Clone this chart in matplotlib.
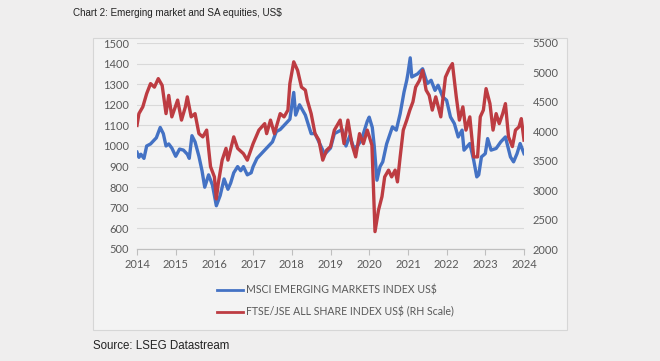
import numpy as np
import matplotlib.pyplot as plt
from matplotlib.patches import Rectangle
from matplotlib.lines import Line2D

# MSCI Emerging Markets index (left axis)
msci_t = [2014.0, 2014.05, 2014.1, 2014.18, 2014.25, 2014.35, 2014.5, 2014.6, 2014.68,
          2014.75, 2014.82, 2014.9, 2015.0, 2015.1, 2015.2, 2015.3, 2015.35, 2015.42,
          2015.5, 2015.6, 2015.68, 2015.75, 2015.85, 2015.95, 2016.0, 2016.05, 2016.15,
          2016.25, 2016.35, 2016.42, 2016.5, 2016.6, 2016.68, 2016.75, 2016.85, 2016.95,
          2017.0, 2017.1, 2017.2, 2017.35, 2017.5, 2017.6, 2017.7, 2017.8, 2017.95,
          2018.05, 2018.1, 2018.2, 2018.35, 2018.5, 2018.6, 2018.75, 2018.85, 2019.0,
          2019.1, 2019.3, 2019.4, 2019.5, 2019.6, 2019.7, 2019.8, 2019.95, 2020.0,
          2020.08, 2020.13, 2020.2, 2020.28, 2020.35, 2020.45, 2020.6, 2020.7, 2020.8,
          2020.9, 2020.97, 2021.0, 2021.06, 2021.1, 2021.25, 2021.38, 2021.5, 2021.6,
          2021.7, 2021.78, 2021.9, 2022.0, 2022.1, 2022.2, 2022.3, 2022.4, 2022.45,
          2022.6, 2022.7, 2022.78, 2022.83, 2022.9, 2023.0, 2023.06, 2023.15, 2023.28,
          2023.4, 2023.52, 2023.65, 2023.73, 2023.82, 2023.9, 2024.0]
msci = [970, 945, 960, 940, 1000, 1010, 1040, 1090, 1060,
        1000, 1010, 990, 950, 985, 980, 960, 940, 1050,
        1020, 950, 880, 800, 860, 810, 760, 710, 760,
        840, 790, 820, 870, 900, 880, 900, 860, 870,
        900, 940, 960, 990, 1020, 1070, 1080, 1100, 1130,
        1260, 1150, 1200, 1150, 1060, 1060, 1000, 960, 990,
        1060, 1080, 1000, 1050, 990, 1000, 1030, 1120, 1140,
        1090, 1000, 834, 900, 923, 1010, 1093, 1077, 1157,
        1262, 1319, 1351, 1428, 1335, 1350, 1375, 1303, 1319,
        1270, 1295, 1238, 1222, 1141, 1109, 1044, 1077, 980,
        1012, 931, 850, 860, 947, 963, 1036, 980, 988,
        1020, 1044, 947, 923, 963, 1012, 963]

# FTSE/JSE All Share index in US$ (right axis)
jse_t = [2014.0, 2014.05, 2014.15, 2014.25, 2014.35, 2014.45, 2014.55, 2014.65, 2014.75,
         2014.82, 2014.9, 2015.05, 2015.15, 2015.25, 2015.3, 2015.4, 2015.5, 2015.6,
         2015.7, 2015.8, 2015.9, 2016.0, 2016.05, 2016.1, 2016.2, 2016.3, 2016.35,
         2016.5, 2016.6, 2016.75, 2016.85, 2017.0, 2017.15, 2017.3, 2017.35, 2017.45,
         2017.55, 2017.7, 2017.8, 2017.9, 2017.95, 2018.05, 2018.15, 2018.25, 2018.35,
         2018.4, 2018.5, 2018.6, 2018.7, 2018.8, 2018.9, 2019.0, 2019.1, 2019.25,
         2019.35, 2019.45, 2019.55, 2019.65, 2019.75, 2019.85, 2019.95, 2020.07, 2020.1,
         2020.15, 2020.24, 2020.33, 2020.4, 2020.5, 2020.58, 2020.67, 2020.73, 2020.8,
         2020.88, 2020.97, 2021.05, 2021.13, 2021.2, 2021.3, 2021.38, 2021.47, 2021.55,
         2021.63, 2021.72, 2021.85, 2021.97, 2022.07, 2022.15, 2022.25, 2022.33, 2022.42,
         2022.5, 2022.6, 2022.7, 2022.8, 2022.87, 2022.95, 2023.02, 2023.12, 2023.2,
         2023.28, 2023.36, 2023.45, 2023.52, 2023.6, 2023.7, 2023.78, 2023.87, 2023.93,
         2024.0]
jse = [4100, 4300, 4415, 4640, 4810, 4750, 4895, 4780, 4300,
       4610, 4245, 4530, 4190, 4415, 4585, 4245, 4300, 3960,
       3905, 4020, 3400, 3225, 2850, 3115, 3510, 3710, 3510,
       3905, 3710, 3620, 3510, 3790, 4020, 4130, 3960, 4190,
       3960, 4300, 4245, 4360, 4810, 5180, 5035, 4750, 4700,
       4530, 4300, 3960, 3850, 3510, 3680, 3740, 4020, 4190,
       3790, 4190, 3790, 3565, 3960, 3790, 4020, 3765, 3225,
       2295, 2660, 2890, 3225, 3340, 3225, 3340, 3140, 3565,
       4020, 4190, 4360, 4500, 4750, 4865, 5035, 4700, 4610,
       4360, 4585, 4245, 4920, 5065, 5150, 4585, 4190, 4415,
       4020, 4245, 3565, 3565, 4245, 4360, 4725, 4470, 4020,
       4300, 4130, 4300, 4470, 3905, 3740, 4020, 4075, 4215,
       3850]

blue = '#4472c4'
red = '#bd3c42'
grey = '#595959'
label_font = ['Lato', 'DejaVu Sans']

fig = plt.figure(figsize=(6.6, 3.61), dpi=100)
fig.patch.set_facecolor('#efeeee')

# chart frame, behind the axes
fig.patches.append(Rectangle((93/660, 1-330/361), 474/660, 292/361, transform=fig.transFigure,
                             facecolor='#f3f3f3', edgecolor='#d6d6d6', lw=0.8, zorder=-5))

ax = fig.add_axes([137/660, 1-249/361, 387/660, 206/361])
ax2 = ax.twinx()
ax.patch.set_visible(False)
ax2.patch.set_visible(False)

ax.plot(msci_t, msci, color=blue, lw=2.4)
ax2.plot(jse_t, jse, color=red, lw=2.4)

ax.set_xlim(2014, 2024)
ax.set_ylim(500, 1500)
ax2.set_ylim(2000, 5500)
ax.set_xticks(range(2014, 2025))
ax.set_yticks(range(500, 1501, 100))
ax2.set_yticks(range(2000, 5501, 500))
ax.grid(axis='y', color='#d9d9d9', lw=0.8)
ax.set_axisbelow(True)

for a in (ax, ax2):
    for s in ('top', 'left', 'right'):
        a.spines[s].set_visible(False)
    a.spines['bottom'].set_color('#bfbfbf')
    a.tick_params(labelsize=8, colors=grey, length=0, pad=6)
    for lab in a.get_xticklabels() + a.get_yticklabels():
        lab.set_family(label_font)
ax.tick_params(axis='x', length=4, color='#bfbfbf', pad=3)
ax2.tick_params(axis='x', length=0)

fig.text(73/660, 1-13/361, 'Chart 2: Emerging market and SA equities, US$', fontsize=7.1,
         color='#222222', va='center', family='Liberation Sans')
fig.text(93/660, 1-346/361, 'Source: LSEG Datastream', fontsize=8.3,
         color='#222222', va='center', family='Liberation Sans')

# legend
for y, c, label in [(290, blue, 'MSCI EMERGING MARKETS INDEX US$'),
                    (312, red, 'FTSE/JSE ALL SHARE INDEX US$ (RH Scale)')]:
    fig.lines.append(Line2D([217/660, 243/660], [1-y/361, 1-y/361], color=c, lw=2,
                            transform=fig.transFigure))
    fig.text(246/660, 1-y/361, label, fontsize=7.6, color=grey, va='center', family=label_font)

fig.savefig('out.png', dpi=100, facecolor=fig.get_facecolor())
